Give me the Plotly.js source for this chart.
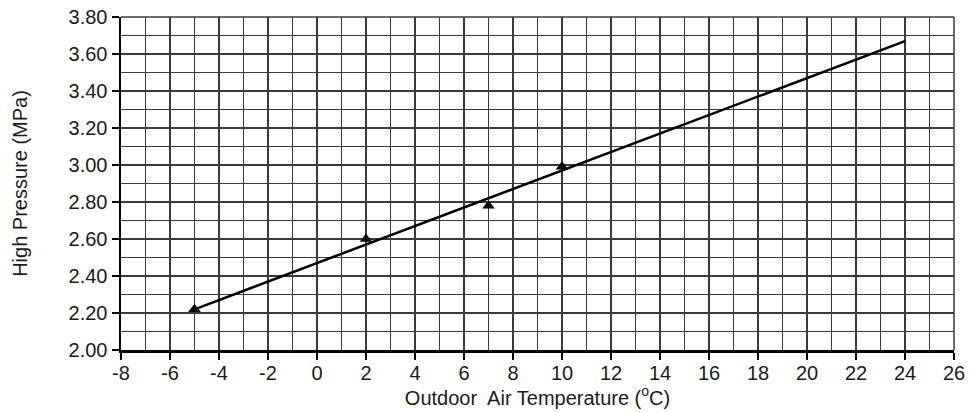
<!DOCTYPE html>
<html><head><meta charset="utf-8">
<script src="https://cdn.plot.ly/plotly-3.0.1.min.js"></script>
<style>html,body{margin:0;padding:0;background:#fff}#chart{width:969px;height:412px}</style>
</head><body><div id="chart"></div>
<script>
const pointTemps = [-5, 2, 7, 10];
const pointPressures = [2.22, 2.60, 2.78, 2.99];
const lineTemps = [-5, 24];
const linePressures = [2.22, 3.67];
const xTickVals = [-8, -6, -4, -2, 0, 2, 4, 6, 8, 10, 12, 14, 16, 18, 20, 22, 24, 26];
const xTickText = ['-8', '-6', '-4', '-2', '0', '2', '4', '6', '8', '10', '12', '14', '16', '18', '20', '22', '24', '26'];
const yTickVals = [2.0, 2.2, 2.4, 2.6, 2.8, 3.0, 3.2, 3.4, 3.6, 3.8];
const yTickText = ['2.00', '2.20', '2.40', '2.60', '2.80', '3.00', '3.20', '3.40', '3.60', '3.80'];

const grid = '#3a3a3a';
const font = {family: 'Liberation Sans, Arial, sans-serif', size: 20, color: '#1a1a1a'};

Plotly.newPlot('chart', [
  {x: lineTemps, y: linePressures, mode: 'lines', line: {color: '#000', width: 2.5}, hoverinfo: 'skip'},
  {x: pointTemps, y: pointPressures, mode: 'markers', marker: {symbol: 'triangle-up', size: 11, color: '#000'}}
], {
  width: 969, height: 412,
  margin: {l: 121, r: 15, t: 17, b: 62},
  showlegend: false,
  paper_bgcolor: '#fff', plot_bgcolor: '#fff',
  font: font,
  xaxis: {
    range: [-8, 26], tickmode: 'array', tickvals: xTickVals, ticktext: xTickText,
    showgrid: true, gridcolor: grid, gridwidth: 1.5,
    minor: {dtick: 1, tick0: -8, showgrid: true, gridcolor: grid, gridwidth: 1.5},
    ticks: 'outside', ticklen: 7, tickwidth: 1.5, tickcolor: '#000', ticklabelstandoff: -4,
    showline: true, linecolor: '#000', linewidth: 2.5, zeroline: false, mirror: false,
    title: {text: 'Outdoor  Air Temperature (<sup>o</sup>C)', font: font, standoff: 2}
  },
  yaxis: {
    range: [2.0, 3.8], tickmode: 'array', tickvals: yTickVals, ticktext: yTickText,
    showgrid: true, gridcolor: grid, gridwidth: 1.5,
    minor: {dtick: 0.1, tick0: 2.0, showgrid: true, gridcolor: grid, gridwidth: 1.5},
    ticks: 'outside', ticklen: 7, tickwidth: 1.5, tickcolor: '#000',
    showline: true, linecolor: '#000', linewidth: 2.5, zeroline: false,
    title: {text: 'High Pressure (MPa)', font: font, standoff: 36}
  },
  shapes: [
    {type: 'line', xref: 'paper', yref: 'paper', x0: 1, x1: 1, y0: 0, y1: 1, line: {color: grid, width: 1.5}},
    {type: 'line', xref: 'paper', yref: 'paper', x0: 0, x1: 1, y0: 1, y1: 1, line: {color: grid, width: 1.5}}
  ]
}, {displayModeBar: false, staticPlot: true});
</script></body></html>
